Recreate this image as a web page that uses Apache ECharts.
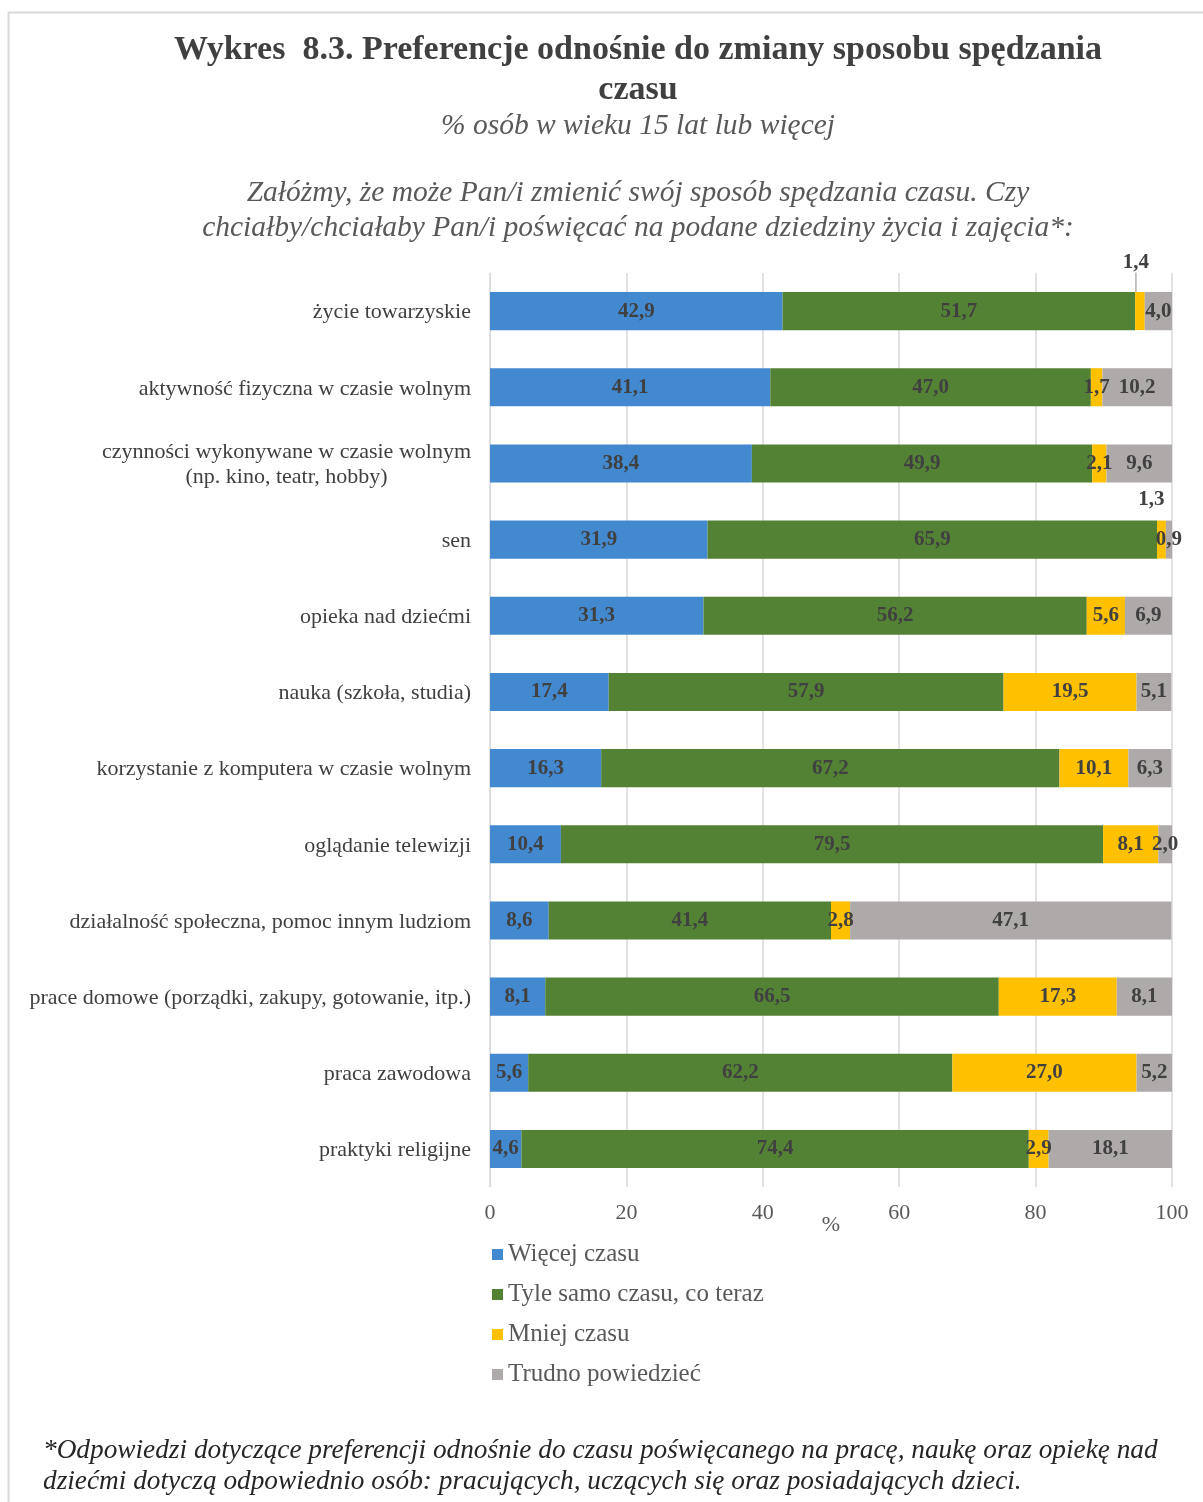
<!DOCTYPE html>
<html>
<head>
<meta charset="utf-8">
<script src="https://cdn.jsdelivr.net/npm/echarts@6/dist/echarts.min.js"></script>
<style>
html,body{margin:0;padding:0;background:#fff;}
#chart{width:1203px;height:1502px;}
</style>
</head>
<body>
<div id="chart"></div>
<script>
const categories = [
  'życie towarzyskie',
  'aktywność fizyczna w czasie wolnym',
  'czynności wykonywane w czasie wolnym\n(np. kino, teatr, hobby)',
  'sen',
  'opieka nad dziećmi',
  'nauka (szkoła, studia)',
  'korzystanie z komputera w czasie wolnym',
  'oglądanie telewizji',
  'działalność społeczna, pomoc innym ludziom',
  'prace domowe (porządki, zakupy, gotowanie, itp.)',
  'praca zawodowa',
  'praktyki religijne'
];
const seriesNames = ['Więcej czasu', 'Tyle samo czasu, co teraz', 'Mniej czasu', 'Trudno powiedzieć'];
const wiecej = [42.9, 41.1, 38.4, 31.9, 31.3, 17.4, 16.3, 10.4, 8.6, 8.1, 5.6, 4.6];
const tyle   = [51.7, 47.0, 49.9, 65.9, 56.2, 57.9, 67.2, 79.5, 41.4, 66.5, 62.2, 74.4];
const mniej  = [1.4, 1.7, 2.1, 1.3, 5.6, 19.5, 10.1, 8.1, 2.8, 17.3, 27.0, 2.9];
const trudno = [4.0, 10.2, 9.6, 0.9, 6.9, 5.1, 6.3, 2.0, 47.1, 8.1, 5.2, 18.1];
const xTicks = [0, 20, 40, 60, 80, 100];

const colors = ['#4389D0', '#548235', '#FFC000', '#AEAAAA'];
const serif = "'Liberation Serif', 'DejaVu Serif', serif";
const fmt = v => Number(v).toFixed(1).replace('.', ',');

const chart = echarts.init(document.getElementById('chart'));
const labelStyle = {
  show: true, position: 'inside', fontFamily: serif, fontWeight: 'bold',
  fontSize: 21, color: '#404040',
  formatter: p => fmt(p.value)
};
const allData = [wiecej, tyle, mniej, trudno];
const series = allData.map((arr, i) => ({
  name: seriesNames[i],
  type: 'bar',
  stack: 'total',
  barWidth: '50%',
  itemStyle: { color: colors[i] },
  label: labelStyle,
  labelLine: { show: i === 2, lineStyle: { color: '#8c8c8c', width: 1 } },
  labelLayout: i === 2 ? function (params) {
    if (params.dataIndex === 0) return { dx: -4, dy: -49 };
    if (params.dataIndex === 3) return { dx: -10, dy: -40 };
    return {};
  } : undefined,
  data: arr.map((v, j) => (i === 2 && j === 3) ? { value: v, labelLine: { show: false } } : v)
}));

const CX = 633;
chart.setOption({
  backgroundColor: '#fff',
  animation: false,
  graphic: [{
    type: 'rect', shape: { x: 8.5, y: 12.5, width: 1200, height: 1500 },
    style: { fill: 'none', stroke: '#d9d9d9', lineWidth: 2 }, silent: true, z: -10
  }],
  title: [
    { text: 'Wykres  8.3. Preferencje odnośnie do zmiany sposobu spędzania\nczasu',
      left: CX, top: 25, textAlign: 'center',
      textStyle: { fontFamily: serif, fontWeight: 'bold', fontSize: 34, color: '#404040', lineHeight: 40, align: 'center' } },
    { text: '% osób w wieku 15 lat lub więcej',
      left: CX, top: 106, textAlign: 'center',
      textStyle: { fontFamily: serif, fontStyle: 'italic', fontWeight: 'normal', fontSize: 29.5, color: '#595959' } },
    { text: 'Załóżmy, że może Pan/i zmienić swój sposób spędzania czasu. Czy\nchciałby/chciałaby Pan/i poświęcać na podane dziedziny życia i zajęcia*:',
      left: CX, top: 171, textAlign: 'center',
      textStyle: { fontFamily: serif, fontStyle: 'italic', fontWeight: 'normal', fontSize: 29.5, color: '#595959', lineHeight: 35, align: 'center' } },
    { text: '*Odpowiedzi dotyczące preferencji odnośnie do czasu poświęcanego na pracę, naukę oraz opiekę nad\ndziećmi dotyczą odpowiednio osób: pracujących, uczących się oraz posiadających dzieci.',
      left: 38, top: 1430,
      textStyle: { fontFamily: serif, fontStyle: 'italic', fontWeight: 'normal', fontSize: 27.3, color: '#262626', lineHeight: 31 } }
  ],
  legend: {
    orient: 'vertical', left: 487, top: 1237,
    icon: 'rect', itemWidth: 11, itemHeight: 11, itemGap: 15,
    data: seriesNames,
    textStyle: { fontFamily: serif, fontSize: 25, color: '#595959', padding: [0, 0, 0, 0] }
  },
  grid: { left: 490, right: 31, top: 273, bottom: 315, containLabel: false },
  xAxis: {
    type: 'value', min: xTicks[0], max: xTicks[xTicks.length - 1], interval: 20,
    name: '%', nameLocation: 'middle', nameGap: 27, nameMoveOverlap: false,
    nameTextStyle: { fontFamily: serif, fontSize: 22, color: '#595959' },
    axisLine: { show: false }, axisTick: { show: false },
    axisLabel: { fontFamily: serif, fontSize: 22, color: '#595959', margin: 15 },
    splitLine: { show: true, lineStyle: { color: '#d9d9d9', width: 1.5 } }
  },
  yAxis: {
    type: 'category', inverse: true, data: categories,
    axisLine: { show: true, lineStyle: { color: '#d9d9d9' } },
    axisTick: { show: false },
    axisLabel: {
      fontFamily: serif, fontSize: 22, color: '#404040', margin: 19, lineHeight: 25,
      padding: [3, 0, 0, 0],
      formatter: function (v) {
        if (v.indexOf('\n') >= 0) {
          return v.split('\n').map(s => '{c|' + s + '}').join('\n');
        }
        return v;
      },
      rich: { c: { align: 'center', fontFamily: serif, fontSize: 22, color: '#404040', lineHeight: 25 } }
    }
  },
  series: series
});
</script>
</body>
</html>
